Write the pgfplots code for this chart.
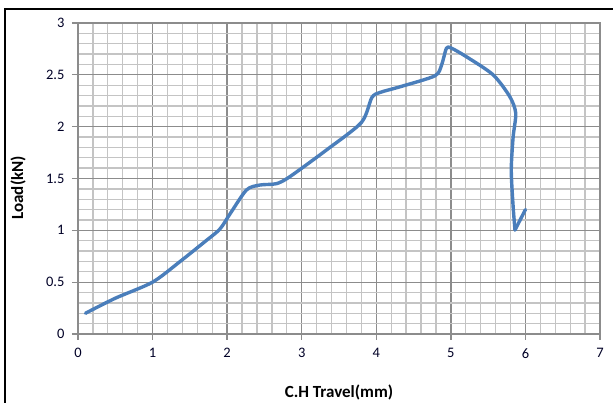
\documentclass[border=0pt]{standalone}
\usepackage{fontspec}
\setmainfont{Carlito}
\usepackage{pgfplots}
\pgfplotsset{compat=1.18}
\definecolor{curve}{HTML}{4A7EBB}
\definecolor{majg}{HTML}{8C8C8C}
\definecolor{ming}{HTML}{C4C4C4}
\begin{document}
\begin{tikzpicture}[x=1pt,y=1pt]
\useasboundingbox (0,0) rectangle (613,403);
\draw[black,line width=2.2pt] (5,0) -- (5,394) -- (613,394);
\begin{axis}[
  at={(78pt,69pt)}, anchor=origin,
  scale only axis, width=522pt, height=311pt,
  xmin=0, xmax=7, ymin=0, ymax=3,
  xtick={0,1,...,7}, ytick={0,0.5,...,3},
  yticklabels={0,0.5,1,1.5,2,2.5,3},
  minor x tick num=4, minor y tick num=4,
  grid=both,
  major grid style={majg, line width=1.3pt},
  minor grid style={ming, line width=1.3pt},
  axis line style={majg, line width=1.3pt},
  tick style={majg, line width=1.3pt},
  major tick length=6pt, minor tick length=0pt,
  tick align=outside,
  xtick pos=bottom, ytick pos=left,
  font=\fontsize{14.5}{17}\selectfont,
  tick label style={font=\fontsize{14.5}{17}\selectfont, color=black!85!blue},
  /pgf/number format/assume math mode=true,
  xticklabel style={yshift=-5pt},
  yticklabel style={xshift=-4pt},
  xlabel={\fontsize{17}{20}\selectfont\textbf{C.H Travel(mm)}},
  ylabel={\fontsize{17}{20}\selectfont\textbf{Load(kN)}},
  xlabel style={at={(0.5,0)}, anchor=center, yshift=-58pt},
  ylabel style={at={(0,0.47)}, anchor=center, yshift=60pt},
  clip=false,
]
\addplot[curve, line width=3.4pt, smooth, tension=0.45, line join=round, line cap=round] coordinates {
(0.1,0.2) (0.5,0.345) (1.0,0.5) (1.37,0.70) (1.7,0.89) (1.9,1.01) (2.04,1.16) (2.26,1.39) (2.44,1.437) (2.66,1.45) (2.84,1.517) (3.33,1.774) (3.8,2.04) (3.94,2.28) (4.05,2.33) (4.32,2.385) (4.785,2.49) (4.875,2.594) (4.94,2.755) (5.0,2.76) (5.21,2.674) (5.567,2.50) (5.79,2.29) (5.87,2.13) (5.835,1.90) (5.81,1.58) (5.835,1.23) (5.86,1.003)
};
\addplot[curve, line width=3.4pt, line cap=round] coordinates {(5.86,1.003) (6.0,1.20)};
\end{axis}
\end{tikzpicture}
\end{document}
